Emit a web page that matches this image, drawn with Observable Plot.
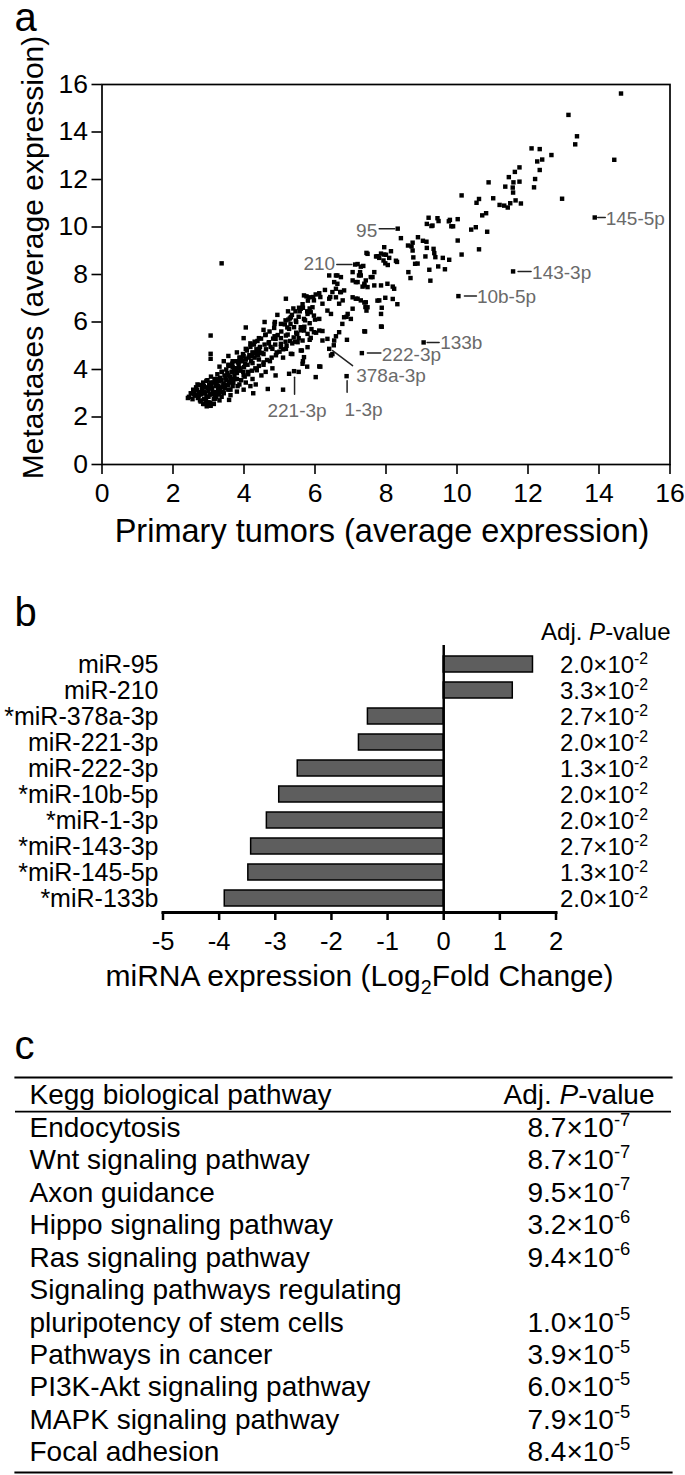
<!DOCTYPE html>
<html><head><meta charset="utf-8">
<script src="https://cdn.jsdelivr.net/npm/d3@7"></script>
<script src="https://cdn.jsdelivr.net/npm/@observablehq/plot@0.6"></script>
<style>
html,body{margin:0;padding:0;background:#fff;}
#wrap{width:685px;}
#wrap svg{display:block;overflow:visible;}
</style></head><body><div id="wrap"></div>
<script>
// ---------------- DATA ----------------
// Panel a: [primary tumors, metastases] average expression per miRNA
const mirnaExpression = [
[14.62,15.62],[13.14,14.72],[13.38,13.82],[13.33,13.48],[14.43,12.83],[12.96,11.19],
[12.1,13.31],[12.33,13.28],[12.66,13.03],[12.26,12.76],[12.4,12.84],[12.33,12.4],[12.2,12.02],[12.17,11.67],
[11.76,12.51],[11.63,12.32],[11.46,12.1],[11.59,11.88],[11.36,11.7],[11.76,11.91],[11.57,11.66],[11.58,11.45],
[10.89,11.88],[11.02,11.21],[11.2,10.93],[11.33,10.9],[11.43,10.82],[11.5,11.0],[11.65,11.12],[11.8,10.99],
[10.13,11.33],[10.62,11.18],[10.55,11.02],[10.82,10.58],[10.71,10.49],[10.85,9.8],[10.4,9.89],[10.53,9.99],
[10.02,10.33],[9.77,10.24],[9.84,10.03],[9.89,10.03],[9.2,10.39],[9.45,10.37],[9.15,10.13],[9.28,10.04],[9.48,10.25],[9.8,10.3],[9.31,10.06],
[10.02,9.43],[10.13,8.84],[10.62,9.06],
[8.42,9.53],[8.62,9.22],[8.75,9.34],[8.9,9.57],[9.04,9.42],[9.14,9.38],[8.72,9.18],[8.75,9.01],[8.77,8.72],[8.82,8.45],[8.89,8.46],[8.63,8.1],[8.69,7.85],
[9.11,8.76],[9.34,9.08],[9.36,8.9],[9.39,8.73],[9.6,8.7],[9.78,8.62],[9.22,8.2],[9.47,8.34],[9.66,8.22],[9.25,7.74],[9.15,9.12],
[7.95,9.15],[7.76,8.77],[7.86,8.88],[8.0,8.83],[7.93,8.59],[8.09,8.7],[8.14,8.98],[8.28,8.58],[7.45,8.91],[7.98,8.47],[8.05,8.4],[8.31,8.53],
[7.67,8.1],[7.62,7.89],[7.43,7.75],[7.39,7.54],[7.15,7.68],[7.34,7.49],[7.48,7.47],[7.24,7.96],[7.06,8.1],[7.27,8.1],[7.36,8.36],[7.2,8.44],
[7.86,7.54],[8.04,7.61],[8.19,7.49],[8.23,7.4],[7.29,8.33],[7.48,8.87],[7.72,8.76],[7.81,8.7],[7.95,8.84],
[8.19,6.97],[7.98,7.02],[8.32,6.75],[7.76,6.9],[7.88,6.6],[7.39,6.82],[7.42,6.63],[7.45,6.48],[7.88,5.8],[7.41,5.6],[7.81,6.91],[7.86,6.34],
[6.63,7.96],[6.73,7.89],[6.54,7.68],[6.59,7.4],[6.71,7.26],[6.82,7.33],[7.06,7.04],[7.15,6.98],
[6.4,7.96],[6.59,7.96],[6.63,7.61],[6.49,7.26],[6.59,7.04],[6.73,7.26],[6.78,6.91],[6.68,6.77],
[7.06,7.75],[7.2,7.68],[7.29,7.96],[7.39,7.61],[7.57,7.89],[7.67,7.54],
[7.2,6.98],[7.29,6.91],[7.43,6.83],[7.48,6.62],[7.06,6.56],[6.92,6.34],[7.01,6.13],[6.82,6.2],[6.77,5.92],[6.89,6.22],
[6.4,6.98],[6.35,6.48],[6.45,6.34],[6.21,6.77],[6.28,7.35],[6.15,7.05],[6.43,7.05],
[5.69,7.12],[5.83,7.04],[5.97,6.91],[6.02,7.16],[6.12,7.21],[5.18,6.98],[5.76,7.08],
[5.93,6.62],[5.88,6.41],[5.79,6.34],[5.97,6.27],[6.12,6.13],[5.69,6.13],[5.6,6.56],[5.66,6.6],[5.57,6.45],[5.85,6.57],[5.78,6.45],
[5.32,6.2],[5.46,6.06],[5.41,5.78],[5.27,5.71],[5.18,5.43],[5.6,5.78],[5.69,5.64],[5.79,5.5],[5.97,5.57],[6.12,5.64],[5.88,5.33],[5.65,5.22],[5.51,5.15],
[6.35,5.29],[6.54,5.22],[6.68,5.57],[6.9,5.25],[6.21,5.22],[6.59,5.4],[6.21,5.62],[6.03,5.55],[5.9,5.7],
[5.29,6.15],[5.31,5.92],[5.17,6.07],[5.22,5.77],[5.04,5.92],[4.87,6.0],[5.47,6.0],[5.54,6.22],[5.72,6.07],[5.24,6.45],[5.39,6.57],[4.94,6.3],[4.58,6.0],
[5.47,5.55],[5.54,5.32],[5.44,5.17],[5.17,5.17],[5.36,5.1],[5.85,5.25],[6.53,5.02],
[5.79,4.94],[5.6,4.8],[5.69,4.52],[5.65,4.24],[5.32,4.66],[5.18,4.87],[5.04,5.08],[4.89,5.29],
[6.12,4.13],[6.02,3.68],[4.89,3.75],[6.45,4.59],[6.49,4.65],[5.63,4.8],[5.36,4.65],[5.1,4.5],[5.66,4.35],[5.78,4.12],[5.54,3.9],[6.15,4.12],
[4.26,3.0],[4.67,3.18],[5.1,3.15],[5.27,3.82],[3.58,2.72],
[3.37,8.47],[3.06,5.43],[3.06,4.66],[3.06,4.45],[7.39,5.61],[7.86,5.81],
[4.05,5.77],[4.55,5.67],[4.86,5.92],[4.61,5.47],[4.42,5.32],[4.3,5.17],[4.18,5.1],[3.99,5.32],[4.05,4.87],[4.24,4.72],[4.42,4.87],[4.55,4.65],[4.7,5.1],[4.8,4.87],[4.92,4.72],[5.04,4.95],[5.23,5.47],[5.04,5.32],[4.86,5.4],
[3.9,4.5],[3.68,4.35],[3.56,4.2],[3.8,4.05],[4.05,4.42],[4.24,4.27],[4.42,4.42],[4.55,4.2],[4.73,4.35],[4.8,4.05],[4.61,3.9],[4.36,3.97],[4.11,3.9],[3.99,3.75],[4.24,3.6],[4.49,3.75],[3.8,3.6],[3.62,3.45],[3.43,3.37],[3.68,3.3],[3.87,3.37],[4.05,3.45],[3.56,3.15],[3.31,3.07],[3.37,2.85],[3.19,3.0],[3.56,3.75],[3.37,3.9],[3.31,4.12],[3.43,4.35],[3.68,3.9],[3.25,3.6],[3.06,3.45],[2.94,3.52],[2.82,3.3],[2.69,3.37],[2.57,3.15],[2.42,2.8],[2.63,2.92],[2.76,3.0],[2.88,3.07],[2.94,2.85],[3.0,2.62],[2.88,2.55],[3.06,2.47],[2.76,2.7],[3.19,2.77],[3.31,2.7],[3.43,3.0],[3.62,2.92],[3.8,3.07],[3.99,3.15],[4.18,3.3],[4.33,3.37],
[3.8,4.72],[3.99,4.57],[3.56,4.57],[3.87,4.35],[4.36,4.65],
[2.45,2.85],[2.5,3.0],[2.55,2.75],[2.6,3.1],[2.62,2.9],[2.65,3.25],[2.7,2.8],[2.72,3.05],[2.75,3.35],[2.78,2.65],[2.8,2.95],[2.82,3.15],[2.85,3.45],[2.88,2.75],[2.9,3.0],[2.92,3.25],[2.95,2.55],[2.97,3.55],[3.0,2.85],[3.0,3.1],[3.02,3.35],[3.05,2.6],[3.07,3.7],[3.1,2.95],[3.1,3.2],[3.12,3.45],[3.15,2.75],[3.17,3.6],[3.2,3.05],[3.2,3.3],[3.22,2.85],[3.25,3.8],[3.27,3.15],[3.3,3.5],[3.3,2.95],[3.33,3.65],[3.35,3.25],[3.38,3.9],[3.4,3.05],[3.42,3.4],[3.45,3.75],[3.47,3.2],[3.5,4.0],[3.5,3.55],[3.55,3.35],[3.57,4.15],[3.6,3.7],[3.62,3.15],[3.65,3.9],[3.67,4.25],[3.7,3.45],[3.72,4.05],[3.75,3.6],[3.77,4.35],[3.8,3.85],[3.82,3.3],[3.85,4.2],[3.87,4.5],[3.9,3.95],[3.92,3.55],[3.95,4.35],[3.97,4.65],[4.0,4.1],[4.02,3.7],[4.05,4.45],[4.08,4.8],[4.1,4.2],[4.12,3.8],[4.15,4.6],[4.18,4.95],[4.2,4.35],[4.22,3.95],[4.25,4.7],[4.28,5.05],[4.3,4.5],[4.32,4.05],[4.35,4.85],[4.38,5.2],[4.4,4.6],[4.42,4.15],[4.45,4.95],[4.48,5.3],[4.5,4.7],[4.55,4.3],[4.58,5.05],[4.6,5.45],[4.62,4.85],[4.65,4.4],[4.7,5.15],[4.72,5.6],[4.75,4.95],[4.78,4.5],[4.82,5.3],[4.85,5.75],[4.88,5.05],[4.9,4.6],[4.95,5.45],[5.0,4.75],[5.05,5.6],[5.1,4.85],[5.15,5.9],[5.2,5.0],[5.25,6.1],[5.3,5.2],[5.35,6.3],[5.4,5.35],[5.45,6.45],[5.5,5.5],[5.55,6.6],[5.6,5.65],[5.65,6.75],[5.7,5.8],[5.8,6.9],[5.85,5.95],[5.95,7.05],[6.0,6.1],
[2.95,2.45],[3.05,2.5],[2.85,2.55],[3.15,2.55],
[2.58,2.95],[2.68,3.15],[2.73,2.9],[2.83,3.05],[2.87,3.3],[2.93,2.7],[2.98,3.2],[3.03,2.95],[3.08,3.3],[3.13,3.05],[3.18,2.9],[3.23,3.45],[3.28,3.3],[3.33,3.1],[3.37,3.55],[3.43,3.3],[3.48,3.65],[3.53,3.85],[3.58,3.5],[3.63,3.6],[3.68,4.1],[3.73,3.75],[3.78,3.95],[3.83,4.3],[3.88,4.05],[3.93,4.4],[3.98,3.9],[4.03,4.25],[4.13,4.5],[4.23,4.55],[4.33,4.7],[4.43,4.75]
];
// highlighted miRNAs (panel a labels)
const hlNames      = ["95","210","378a-3p","221-3p","222-3p","10b-5p","1-3p","143-3p","145-5p","133b"];
const hlPrimary    = [8.33, 7.13, 6.40, 5.41, 7.32, 10.04, 6.89, 11.58, 13.88, 9.06];
const hlMetastases = [9.93, 8.42, 4.87, 3.93, 4.69, 7.09, 3.72, 8.13, 10.40, 5.14];
const ticksA = [0,2,4,6,8,10,12,14,16];

// Panel b
const mirnas  = ["miR-95","miR-210","*miR-378a-3p","miR-221-3p","miR-222-3p","*miR-10b-5p","*miR-1-3p","*miR-143-3p","*miR-145-5p","*miR-133b"];
const log2FC  = [1.59, 1.23, -1.35, -1.51, -2.60, -2.93, -3.15, -3.43, -3.48, -3.90];
const mirnaP  = ["2.0×10^{-2}","3.3×10^{-2}","2.7×10^{-2}","2.0×10^{-2}","1.3×10^{-2}","2.0×10^{-2}","2.0×10^{-2}","2.7×10^{-2}","1.3×10^{-2}","2.0×10^{-2}"];
const ticksB  = [-5,-4,-3,-2,-1,0,1,2];

// Panel c
const pathways = ["Endocytosis","Wnt signaling pathway","Axon guidance","Hippo signaling pathway","Ras signaling pathway","Signaling pathways regulating\npluripotency of stem cells","Pathways in cancer","PI3K-Akt signaling pathway","MAPK signaling pathway","Focal adhesion"];
const pathwayP = ["8.7×10^{-7}","8.7×10^{-7}","9.5×10^{-7}","3.2×10^{-6}","9.4×10^{-6}","1.0×10^{-5}","3.9×10^{-5}","6.0×10^{-5}","7.9×10^{-5}","8.4×10^{-5}"];

// ---------------- STYLE / LAYOUT ----------------
const FONT = "'Liberation Sans', Arial, Helvetica, sans-serif";
const W = 685;
const labelLayout = {
  "95":      {lx:-3,  ly:0,   len:15.5, rot:270, tx:-20.5, ty:2,  anchor:"end"},
  "210":     {lx:-3.3,ly:0,   len:15,   rot:270, tx:-20,   ty:-1, anchor:"end"},
  "378a-3p": {lx:3.4, ly:1.7, len:25,   rot:127, tx:27,    ty:27, anchor:"start"},
  "221-3p":  {lx:0.5, ly:6,   len:17,   rot:180, tx:3,     ty:40, anchor:"middle"},
  "222-3p":  {lx:5.5, ly:0,   len:13.5, rot:90,  tx:20,    ty:2,  anchor:"start"},
  "10b-5p":  {lx:6,   ly:0,   len:12,   rot:90,  tx:18.5,  ty:1,  anchor:"start"},
  "1-3p":    {lx:0.5, ly:4.5, len:11.5, rot:180, tx:-2,    ty:34, anchor:"start"},
  "143-3p":  {lx:5,   ly:0,   len:13,   rot:90,  tx:19,    ty:1,  anchor:"start"},
  "145-5p":  {lx:3,   ly:0,   len:7.5,  rot:90,  tx:11,    ty:1,  anchor:"start"},
  "133b":    {lx:3.5, ly:0,   len:12,   rot:90,  tx:16.5,  ty:0,  anchor:"start"}
};
const leaderShape = {draw(context, l) { context.moveTo(0, 0); context.lineTo(0, -l); }};

function rich(svg) {
  svg.querySelectorAll("text").forEach(t => {
    const s = t.textContent;
    if (!/[\^_~]\{/.test(s)) return;
    const fs = parseFloat(getComputedStyle(t).fontSize) || 12;
    t.textContent = "";
    const re = /([\^_~])\{([^}]*)\}/g;
    let last = 0, m, shift = 0;
    const add = (txt, kind) => {
      const ts = document.createElementNS("http://www.w3.org/2000/svg", "tspan");
      ts.textContent = txt;
      let target = 0;
      if (kind === "^") target = -0.40 * fs; else if (kind === "_") target = 0.28 * fs;
      if (target !== shift) { ts.setAttribute("dy", target - shift); shift = target; }
      if (kind === "^" || kind === "_") ts.setAttribute("font-size", 0.66 * fs);
      if (kind === "~") ts.setAttribute("font-style", "italic");
      t.appendChild(ts);
    };
    while ((m = re.exec(s))) {
      if (m.index > last) add(s.slice(last, m.index), "");
      add(m[2], m[1]);
      last = re.lastIndex;
    }
    if (last < s.length) add(s.slice(last), "");
  });
}

const wrap = document.getElementById("wrap");

// ---------------- PANEL A ----------------
const hl = hlNames.map((name, i) => ({name, x: hlPrimary[i], y: hlMetastases[i]}));
const pts = mirnaExpression.map(([x, y]) => ({x, y})).concat(hl);
const annMarks = hl.flatMap(d => {
  const L = labelLayout[d.name];
  return [
    Plot.vector([d], {x: "x", y: "y", length: L.len, rotate: L.rot, anchor: "start", dx: L.lx, dy: L.ly,
      stroke: "#222", strokeWidth: 1.5, shape: leaderShape}),
    Plot.text([d], {x: "x", y: "y", text: "name", dx: L.tx, dy: L.ty, textAnchor: L.anchor,
      fill: "#6a6a6a", fontSize: 19})
  ];
});
const panelA = Plot.plot({
  width: W, height: 575,
  marginLeft: 101.5, marginRight: 15.5, marginTop: 84, marginBottom: 111,
  style: {fontFamily: FONT, overflow: "visible", background: "#fff"},
  x: {domain: [0, 16]},
  y: {domain: [0, 16]},
  marks: [
    Plot.frame({stroke: "#000", strokeWidth: 1.7}),
    Plot.axisX({ticks: ticksA, tickFormat: d => String(d), tickSize: 10, tickPadding: 9, fontSize: 26.5, strokeWidth: 1.6, label: null}),
    Plot.axisY({ticks: ticksA, tickFormat: d => String(d), tickSize: 10, tickPadding: 4, fontSize: 26.5, strokeWidth: 1.6, label: null}),
    Plot.dot(pts, {x: "x", y: "y", symbol: "square", r: 2.5, fill: "#000"}),
    ...annMarks,
    Plot.text(["Primary tumors (average expression)"], {text: d => d, frameAnchor: "bottom", textAnchor: "middle", lineAnchor: "bottom", dx: -4, dy: 77, fontSize: 32.5}),
    Plot.text(["Metastases (average expression)"], {text: d => d, frameAnchor: "left", textAnchor: "middle", lineAnchor: "middle", rotate: -90, dx: -69, dy: -17, fontSize: 30}),
    Plot.text(["a"], {text: d => d, frameAnchor: "top-left", textAnchor: "start", lineAnchor: "bottom", dx: -87.5, dy: -54, fontSize: 40})
  ]
});
wrap.appendChild(panelA);

// ---------------- PANEL B ----------------
const bars = mirnas.map((name, i) => ({name, fc: log2FC[i], p: mirnaP[i]}));
const panelB = Plot.plot({
  width: W, height: 435,
  marginLeft: 162.5, marginRight: 129.5, marginTop: 74, marginBottom: 98,
  style: {fontFamily: FONT, overflow: "visible", background: "#fff"},
  x: {domain: [-5, 2]},
  y: {type: "band", domain: mirnas, padding: 0},
  marks: [
    Plot.barX(bars, {x: "fc", y: "name", fill: "#5e5e5e", stroke: "#000", strokeWidth: 1.5, insetTop: 5, insetBottom: 5}),
    Plot.ruleX([0], {stroke: "#000", strokeWidth: 2.5, insetTop: -4}),
    Plot.frame({anchor: "bottom", stroke: "#000", strokeWidth: 3}),
    Plot.axisX({ticks: ticksB, tickFormat: d => String(d), tickSize: 8, tickPadding: 11, fontSize: 25.5, strokeWidth: 2.5, label: null}),
    Plot.axisY({tickSize: 0, tickPadding: 4.5, fontSize: 25, label: null}),
    Plot.text(bars, {y: "name", text: "p", frameAnchor: "right", textAnchor: "start", lineAnchor: "middle", dx: 4, dy: 1, fontSize: 24}),
    Plot.text(["Adj. ~{P}-value"], {text: d => d, frameAnchor: "top-right", textAnchor: "end", lineAnchor: "middle", dx: 114.5, dy: -17, fontSize: 24}),
    Plot.text(["miRNA expression (Log_{2}Fold Change)"], {text: d => d, frameAnchor: "bottom", textAnchor: "middle", lineAnchor: "bottom", dy: 73, fontSize: 30}),
    Plot.text(["b"], {text: d => d, frameAnchor: "top-left", textAnchor: "start", lineAnchor: "bottom", dx: -148.5, dy: -24, fontSize: 40})
  ]
});
wrap.appendChild(panelB);

// ---------------- PANEL C ----------------
const tableLines = [], pRows = [];
let ln = 0;
pathways.forEach((name, i) => {
  name.split("\n").forEach(part => tableLines.push({text: part, line: ln++}));
  pRows.push({p: pathwayP[i], line: ln - 1});
});
const headerLine = -1;
const panelC = Plot.plot({
  width: W, height: 465,
  marginLeft: 15, marginRight: 14, marginTop: 67, marginBottom: 3,
  style: {fontFamily: FONT, overflow: "visible", background: "#fff"},
  x: {domain: [0, 1], axis: null},
  y: {domain: [headerLine - 0.55, ln - 1 + 0.62], reverse: true, axis: null},
  marks: [
    Plot.frame({anchor: "top", stroke: "#000", strokeWidth: 2.2}),
    Plot.frame({anchor: "bottom", stroke: "#000", strokeWidth: 2.2}),
    Plot.ruleY([headerLine + 0.5], {stroke: "#000", strokeWidth: 1.8}),
    Plot.text([{t: "Kegg biological pathway", line: headerLine}], {y: "line", text: "t", frameAnchor: "left", textAnchor: "start", lineAnchor: "middle", dx: 14, fontSize: 28}),
    Plot.text([{t: "Adj. ~{P}-value", line: headerLine}], {y: "line", text: "t", frameAnchor: "right", textAnchor: "end", lineAnchor: "middle", dx: -17, fontSize: 28}),
    Plot.text(tableLines, {y: "line", text: "text", frameAnchor: "left", textAnchor: "start", lineAnchor: "middle", dx: 14, fontSize: 28}),
    Plot.text(pRows, {y: "line", text: "p", frameAnchor: "right", textAnchor: "start", lineAnchor: "middle", dx: -144, fontSize: 28}),
    Plot.text(["c"], {text: d => d, frameAnchor: "top-left", textAnchor: "start", lineAnchor: "bottom", dx: -1, dy: -19, fontSize: 40})
  ]
});
wrap.appendChild(panelC);

[panelA, panelB, panelC].forEach(rich);
</script></body></html>
